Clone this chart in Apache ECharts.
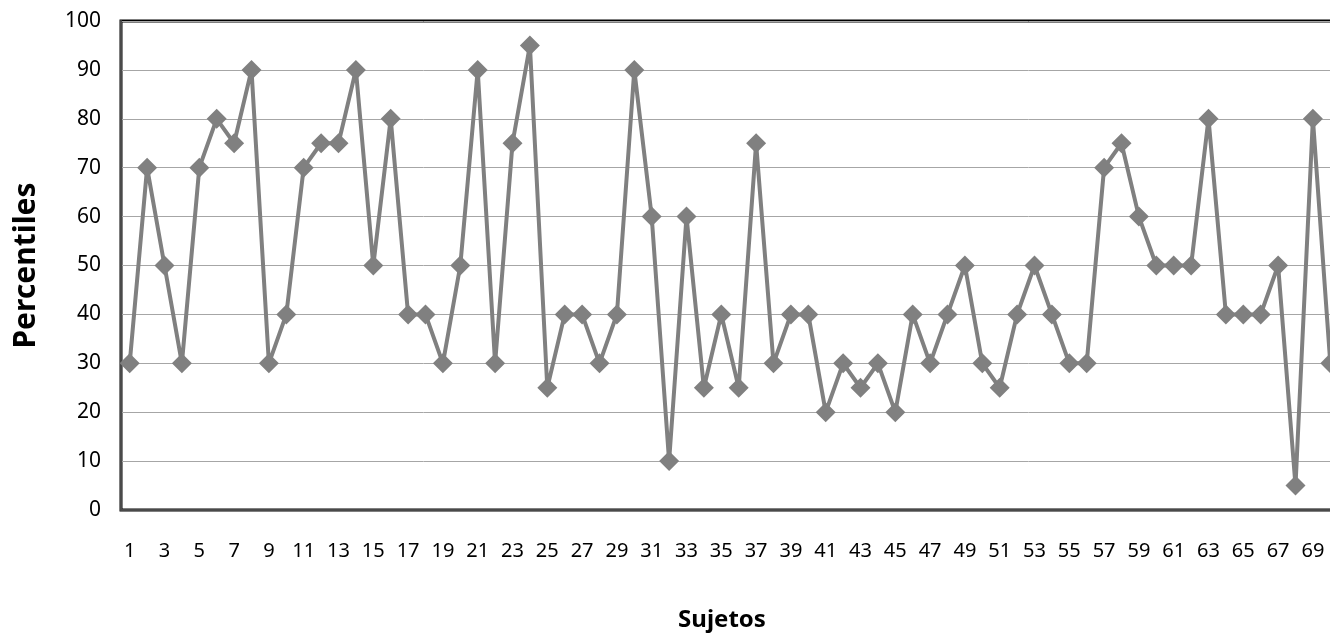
<!DOCTYPE html>
<html>
<head>
<meta charset="utf-8">
<title>Percentiles por sujeto</title>
<script src="https://cdn.jsdelivr.net/npm/echarts@6/dist/echarts.min.js"></script>
<style>
  html, body { margin: 0; padding: 0; background: #fff; overflow: hidden; }
  #chart { width: 1330px; height: 641px; }
</style>
</head>
<body>
<div id="chart"></div>
<script>
// Sujetos 1..70
var sujetos = [];
for (var i = 1; i <= 70; i++) sujetos.push(String(i));

// percentil de cada sujeto
var percentiles = [
  30, 70, 50, 30, 70, 80, 75, 90, 30, 40,
  70, 75, 75, 90, 50, 80, 40, 40, 30, 50,
  90, 30, 75, 95, 25, 40, 40, 30, 40, 90,
  60, 10, 60, 25, 40, 25, 75, 30, 40, 40,
  20, 30, 25, 30, 20, 40, 30, 40, 50, 30,
  25, 40, 50, 40, 30, 30, 70, 75, 60, 50,
  50, 50, 80, 40, 40, 40, 50, 5, 80, 30
];

var gris = '#808080';
var fuente = '"Noto Sans", "Open Sans", sans-serif';

var myChart = echarts.init(document.getElementById('chart'));
var option = {
  animation: false,
  // el grid sigue más allá del borde derecho, como en el original recortado
  grid: {
    left: 121,
    width: 1218,
    top: 21,
    bottom: 131,
    outerBoundsMode: 'none',
    show: true,
    borderColor: '#000',
    borderWidth: 3
  },
  xAxis: {
    type: 'category',
    data: sujetos,
    boundaryGap: true,
    name: 'Sujetos',
    nameLocation: 'middle',
    nameGap: 98,
    nameTextStyle: { fontFamily: fuente, fontSize: 24, fontWeight: 'bold', color: '#000', padding: [0, 16, 0, 0] },
    axisLine: { lineStyle: { color: '#4a4a4a', width: 2 } },
    axisTick: { show: false },
    axisLabel: { interval: 1, margin: 31, fontFamily: fuente, fontSize: 20, color: '#000' },
    splitLine: { show: false }
  },
  yAxis: {
    type: 'value',
    min: 0,
    max: 100,
    interval: 10,
    name: 'Percentiles',
    nameLocation: 'middle',
    nameGap: 80,
    nameTextStyle: { fontFamily: fuente, fontSize: 30, fontWeight: 'bold', color: '#000' },
    axisLine: { show: true, lineStyle: { color: '#4a4a4a', width: 2 } },
    axisTick: { show: false },
    axisLabel: { margin: 20, fontFamily: fuente, fontSize: 21, color: '#000' },
    splitLine: { lineStyle: { color: '#a6a6a6', width: 1 } }
  },
  series: [{
    name: 'Percentiles',
    type: 'line',
    data: percentiles,
    symbol: 'diamond',
    symbolSize: 20,
    showAllSymbol: true,
    itemStyle: { color: gris },
    lineStyle: { color: gris, width: 4 }
  }]
};
myChart.setOption(option);
</script>
</body>
</html>
